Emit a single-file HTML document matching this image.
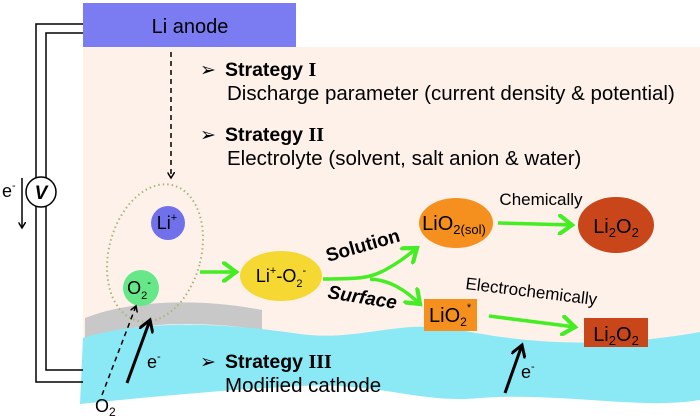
<!DOCTYPE html>
<html><head><style>body{margin:0;background:#fff}svg{display:block}text{font-family:"Liberation Sans",sans-serif}</style></head><body>
<svg width="700" height="417" viewBox="0 0 700 417" xmlns="http://www.w3.org/2000/svg">
<defs>
<marker id="g" markerWidth="6" markerHeight="6" refX="4" refY="3" orient="auto" markerUnits="strokeWidth"><path d="M0,0 L4,3 L0,6" fill="none" stroke="#44ee22" stroke-width="1.2"/></marker>
<marker id="k" markerWidth="5" markerHeight="5" refX="4" refY="2.5" orient="auto" markerUnits="strokeWidth"><path d="M0,0 L4,2.5 L0,5" fill="none" stroke="#000" stroke-width="1"/></marker>
</defs>
<rect x="83" y="47" width="617" height="300" fill="#fdf1ea"/>
<path d="M85,318 C130,300 200,298 262,310 L262,330 C200,320 130,322 85,340 Z" fill="#c8c8c8"/>
<path d="M83,338 C140,320 220,322 300,334 C360,342 400,318 460,330 C520,342 600,350 700,332 L700,400 C640,410 560,392 480,398 C420,404 380,382 300,386 C220,390 140,398 80,404 Z" fill="#8be8f5"/>
<rect x="83" y="3" width="213" height="44" fill="#7b7cf2"/>
<text x="190" y="33" font-size="20" text-anchor="middle">Li anode</text>
<path d="M83,24 H36 V382 H83" fill="none" stroke="#000" stroke-width="1.5"/>
<path d="M83,33 H46 V370 H83" fill="none" stroke="#000" stroke-width="1.5"/>
<circle cx="41" cy="192" r="15" fill="#fff" stroke="#000" stroke-width="1.5"/>
<text x="41" y="199" font-size="19" font-weight="bold" font-style="italic" text-anchor="middle">V</text>
<text x="2" y="197" font-size="18">e<tspan font-size="11" dy="-8">-</tspan></text>
<line x1="22" y1="178" x2="22" y2="228" stroke="#000" stroke-width="1.5" marker-end="url(#k)"/>
<line x1="171" y1="52" x2="171" y2="178" stroke="#000" stroke-width="1.5" stroke-dasharray="5,4" marker-end="url(#k)"/>
<text x="200" y="76" font-size="19">➢</text>
<text x="225" y="76" font-size="19.5" font-weight="bold">Strategy <tspan font-family="Liberation Serif" font-size="20">I</tspan></text>
<text x="227" y="100" font-size="20.5">Discharge parameter (current density &amp; potential)</text>
<text x="200" y="141" font-size="19">➢</text>
<text x="225" y="141" font-size="19.5" font-weight="bold">Strategy <tspan font-family="Liberation Serif" font-size="20">II</tspan></text>
<text x="227" y="165" font-size="20.5">Electrolyte (solvent, salt anion &amp; water)</text>
<text x="200" y="368" font-size="19">➢</text>
<text x="225" y="368" font-size="19.5" font-weight="bold">Strategy <tspan font-family="Liberation Serif" font-size="20">III</tspan></text>
<text x="225" y="392" font-size="20.5">Modified cathode</text>
<ellipse cx="155" cy="253" rx="46" ry="70" transform="rotate(15 155 253)" fill="none" stroke="#a8b878" stroke-width="2" stroke-dasharray="1.5,3"/>
<circle cx="168" cy="223" r="17" fill="#7070ea"/>
<text x="167" y="229" font-size="18" text-anchor="middle">Li<tspan font-size="11" dy="-8">+</tspan></text>
<circle cx="141" cy="288" r="18" fill="#66e888"/>
<text x="139" y="294" font-size="18" text-anchor="middle">O<tspan font-size="11" dy="5">2</tspan><tspan font-size="11" dy="-13">-</tspan></text>
<line x1="200" y1="272" x2="236" y2="272" stroke="#44ee22" stroke-width="3.5" marker-end="url(#g)"/>
<ellipse cx="281" cy="276" rx="41" ry="25" fill="#f5d832"/>
<text x="281" y="282" font-size="18" text-anchor="middle">Li<tspan font-size="11" dy="-8">+</tspan><tspan dy="8">-O</tspan><tspan font-size="11" dy="5">2</tspan><tspan font-size="11" dy="-13">-</tspan></text>
<path d="M323,279 C360,279 370,278 385,270 C400,262 408,255 417,248" fill="none" stroke="#44ee22" stroke-width="3.5" marker-end="url(#g)"/>
<path d="M370,279 C390,280 405,290 420,304" fill="none" stroke="#44ee22" stroke-width="3.5" marker-end="url(#g)"/>
<text x="328" y="262" font-size="19" font-weight="bold" transform="rotate(-16 328 262)">Solution</text>
<text x="327" y="298" font-size="19" font-weight="bold" font-style="italic" transform="rotate(9 327 298)">Surface</text>
<ellipse cx="456" cy="223" rx="37" ry="25" fill="#f5901e"/>
<text x="454" y="230" font-size="20" text-anchor="middle">LiO<tspan font-size="13" dy="4">2(sol)</tspan></text>
<line x1="498" y1="223" x2="572" y2="225" stroke="#44ee22" stroke-width="3.5" marker-end="url(#g)"/>
<text x="541" y="205" font-size="17" text-anchor="middle">Chemically</text>
<ellipse cx="616" cy="225" rx="38" ry="28" fill="#c8461a"/>
<text x="616" y="233" font-size="20" text-anchor="middle">Li<tspan font-size="13" dy="4">2</tspan><tspan dy="-4">O</tspan><tspan font-size="13" dy="4">2</tspan></text>
<rect x="424" y="299" width="53" height="32" fill="#f5901e"/>
<text x="429" y="322" font-size="20">LiO<tspan font-size="12" dy="4">2</tspan><tspan font-size="11" dy="-15">*</tspan></text>
<line x1="489" y1="316" x2="575" y2="327" stroke="#44ee22" stroke-width="3.5" marker-end="url(#g)"/>
<text x="465" y="289" font-size="17" transform="rotate(7 465 289)">Electrochemically</text>
<rect x="584" y="318" width="64" height="29" fill="#c8461a"/>
<text x="616" y="341" font-size="20" text-anchor="middle">Li<tspan font-size="13" dy="4">2</tspan><tspan dy="-4">O</tspan><tspan font-size="13" dy="4">2</tspan></text>
<line x1="127" y1="383" x2="150" y2="320" stroke="#000" stroke-width="3" marker-end="url(#k)"/>
<text x="147" y="368" font-size="18">e<tspan font-size="11" dy="-8">-</tspan></text>
<line x1="102" y1="395" x2="136" y2="306" stroke="#000" stroke-width="1.5" stroke-dasharray="5,4" marker-end="url(#k)"/>
<text x="95" y="412" font-size="18">O<tspan font-size="12" dy="4">2</tspan></text>
<line x1="505" y1="393" x2="522" y2="345" stroke="#000" stroke-width="3" marker-end="url(#k)"/>
<text x="521" y="378" font-size="18">e<tspan font-size="11" dy="-8">-</tspan></text>
</svg>
</body></html>
